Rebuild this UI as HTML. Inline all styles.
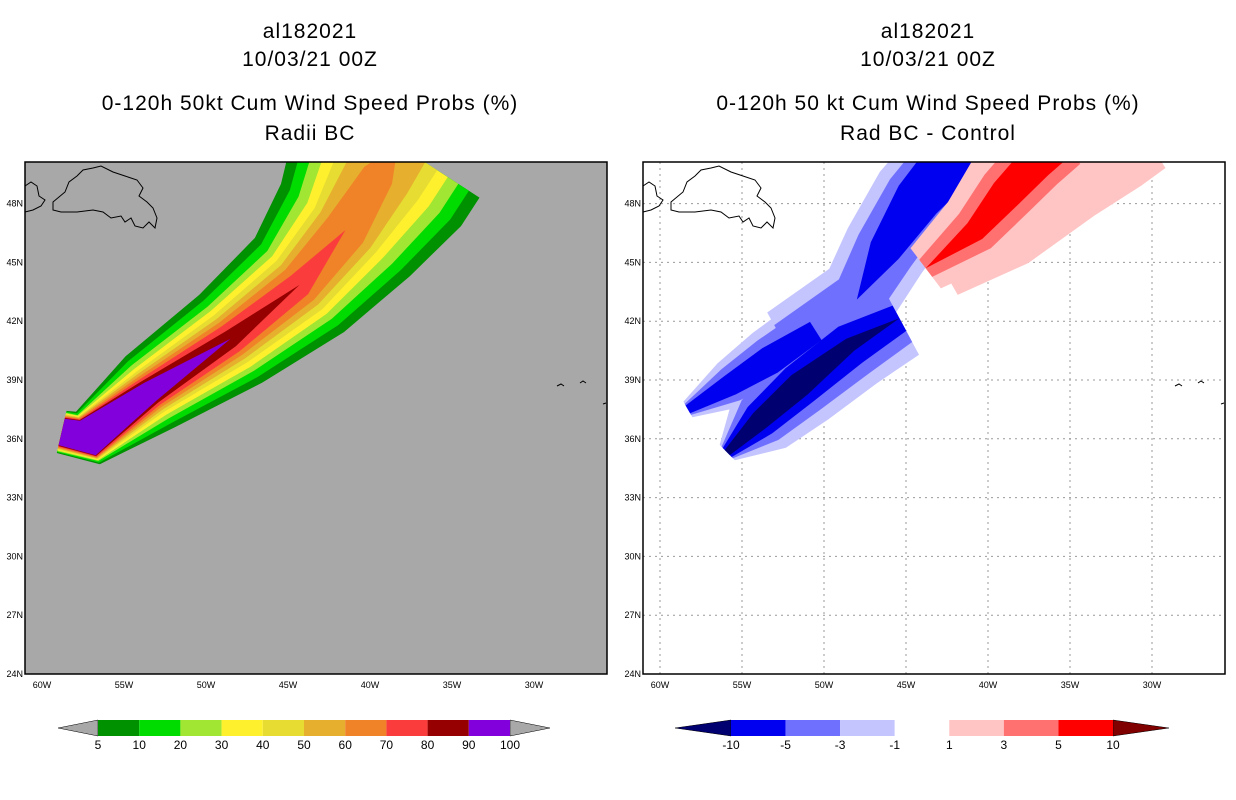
<!DOCTYPE html>
<html><head><meta charset="utf-8">
<style>
html,body{margin:0;padding:0;background:#fff;}
svg{display:block;}
text{font-family:"Liberation Sans",sans-serif;}
.ttl{font-size:21px;letter-spacing:1px;text-anchor:middle;fill:#000;}
.tk{font-size:9px;fill:#000;}
.cb{font-size:12px;fill:#000;text-anchor:middle;}
</style></head>
<body>
<svg id="fig" width="1236" height="800" viewBox="0 0 1236 800" xmlns="http://www.w3.org/2000/svg">
<defs>
<clipPath id="clipL"><rect x="25" y="162" width="582" height="512"/></clipPath>
<clipPath id="clipR"><rect x="643" y="162" width="582" height="512"/></clipPath>
</defs>
<g>
<text class="ttl" x="310" y="38">al182021</text>
<text class="ttl" x="310" y="66">10/03/21 00Z</text>
<text class="ttl" x="310" y="110">0-120h 50kt Cum Wind Speed Probs (%)</text>
<text class="ttl" x="310" y="140">Radii BC</text>
</g>
<g>
<text class="ttl" x="928" y="38">al182021</text>
<text class="ttl" x="928" y="66">10/03/21 00Z</text>
<text class="ttl" x="928" y="110">0-120h 50 kt Cum Wind Speed Probs (%)</text>
<text class="ttl" x="928" y="140">Rad BC - Control</text>
</g>
<rect x="25" y="162" width="582" height="512" fill="#a8a8a8"/>
<rect x="643" y="162" width="582" height="512" fill="#fff"/>
<g id="gridR" clip-path="url(#clipR)"></g>
<g id="plumeL" clip-path="url(#clipL)"></g>
<g id="plumeR" clip-path="url(#clipR)"></g>
<g id="coast"></g>
<rect x="25" y="162" width="582" height="512" fill="none" stroke="#000" stroke-width="1.5"/>
<rect x="643" y="162" width="582" height="512" fill="none" stroke="#000" stroke-width="1.5"/>
<g id="ticks"></g>
<g id="cbL"></g>
<g id="cbR"></g>
</svg>
<script>
// ---- data ----
const latTicks = [48,45,42,39,36,33,30,27,24];
const lonTicks = [60,55,50,45,40,35,30];
// left plume track (lon W, lat N)
const trackLon = [58.8,57.2,53.4,48.5,44.3,41.5,39.5,38.3];
const trackLat = [36.35,36.04,38.4,41.1,43.85,46.65,49.45,51.0];
const probLevels = [5,10,20,30,40,50,60,70,80,90];
const probColors = ['#009100','#00dc00','#a0e632','#fff02d','#e6dc32','#e6af2d','#f08228','#fa3c3c','#960000','#8200dc'];
const probWidths = [
 [1.2,1.6,2.4,3.0,3.6,4.4,5.4,5.4],
 [1.15,1.5,2.1,2.6,3.1,3.8,4.7,4.7],
 [1.1,1.4,1.8,2.2,2.6,3.2,4.0,4.0],
 [1.05,1.35,1.55,1.9,2.2,2.6,3.3,3.3],
 [1.0,1.3,1.35,1.6,1.85,2.1,2.6,2.6],
 [0.95,1.25,1.2,1.35,1.5,1.7,1.9,1.8],
 [0.9,1.2,1.05,1.1,1.15,1.2,0.9,0],
 [0.85,1.15,0.9,0.85,0.7,0,0,0],
 [0.8,1.1,0.75,0.5,0,0,0,0],
 [0.75,1.05,0.6,0,0,0,0,0]
];
// right panel bands
const diffColors = ['#c4c4ff','#7070ff','#0000f0','#000070','#ffc4c4','#ff7070','#ff0000'];
const bandLLon = [58.3,55.7,53.3,50.5];
const bandLLat = [37.5,38.75,40.0,41.5];
const bandLW = [[0.5,1.4,1.8,2.0],[0.35,1.0,1.3,1.4],[0.25,0.6,0.8,0.6],[0,0,0,0]];
const bandMLon = [55.9,53.9,51.5,48.4,45.4];
const bandMLat = [35.3,36.95,38.75,40.8,42.15];
const bandMW = [[0.6,2.1,2.5,2.6,2.3],[0.45,1.5,1.8,1.9,1.5],[0.35,1.0,1.2,1.2,0.8],[0.2,0.55,0.7,0.4,0]];
const bandULon = [52.5,48.0,46.3,44.3,42.3,41.2];
const bandULat = [41.0,43.1,45.6,48.2,50.1,51.2];
const bandUW = [[1.8,2.3,2.4,2.6,2.6,2.6],[1.0,1.5,1.7,1.9,2.0,2.0],[0,0,0.9,1.3,1.5,1.5],[0,0,0,0,0,0]];
const bandRLon = [43.8,40.8,38.9,37.1,35.6];
const bandRLat = [44.7,46.6,48.5,50.1,51.2];
const bandRW = [[1.4,2.2,2.6,2.9,3.0],[0.6,1.3,1.6,1.7,1.7],[0,0.6,0.9,1.0,1.0]];
const bandPLon = [42.5,38.5,34.5,31.5,30.0];
const bandPLat = [44.3,46.2,48.6,50.1,50.9];
const bandPW = [[1.2,1.6,1.6,1.5,1.4]];
const cbLLabels = ['5','10','20','30','40','50','60','70','80','90','100'];
const cbRLabels = ['-10','-5','-3','-1','1','3','5','10'];

// ---- axes ----
const NS='http://www.w3.org/2000/svg';
function xL(lon){return 42+(60-lon)*16.4;}
function xR(lon){return 660+(60-lon)*16.4;}
function yM(lat){return 674-(lat-24)*19.6;}
const PXDEG=18;
function mk(tag,attrs,parent){const e=document.createElementNS(NS,tag);for(const k in attrs)e.setAttribute(k,attrs[k]);parent.appendChild(e);return e;}

function bandPoly(lons,lats,ws,xf){
  const P=lons.map((l,i)=>[xf(l),yM(lats[i])]);
  const left=[],right=[];
  for(let i=0;i<P.length;i++){
    const a=P[Math.max(0,i-1)],b=P[Math.min(P.length-1,i+1)];
    let dx=b[0]-a[0],dy=b[1]-a[1];const n=Math.hypot(dx,dy)||1;dx/=n;dy/=n;
    const w=ws[i]*PXDEG;
    left.push([P[i][0]-dy*w,P[i][1]+dx*w]);
    right.push([P[i][0]+dy*w,P[i][1]-dx*w]);
  }
  return left.concat(right.reverse()).map(p=>p[0].toFixed(1)+','+p[1].toFixed(1)).join(' ');
}

// left plume
const gL=document.getElementById('plumeL');
probLevels.forEach((lv,k)=>{
  const p=mk('polygon',{points:bandPoly(trackLon,trackLat,probWidths[k],xL),fill:probColors[k]},gL);
  
  
});

// right grid
const gG=document.getElementById('gridR');
lonTicks.forEach(l=>{const e=mk('line',{x1:xR(l),x2:xR(l),y1:162,y2:674,stroke:'#999','stroke-dasharray':'2,4','stroke-width':1},gG);
  });
latTicks.forEach(l=>{const e=mk('line',{x1:643,x2:1225,y1:yM(l),y2:yM(l),stroke:'#999','stroke-dasharray':'2,4','stroke-width':1},gG);
  });

// right diff
const gR=document.getElementById('plumeR');
function drawBands(lons,lats,W,offset,name){
  W.forEach((ws,k)=>{
    if(Math.max(...ws)===0)return;
    const p=mk('polygon',{points:bandPoly(lons,lats,ws,xR),fill:diffColors[offset+k]},gR);
    
    
  });
}
for(let k=0;k<4;k++){
  drawBands(bandULon,bandULat,[bandUW[k]],k,'upper-negative');
  drawBands(bandLLon,bandLLat,[bandLW[k]],k,'left-tail-negative');
  drawBands(bandMLon,bandMLat,[bandMW[k]],k,'main-tail-negative');
}
drawBands(bandPLon,bandPLat,bandPW,4,'positive-fringe');
drawBands(bandRLon,bandRLat,bandRW,4,'positive');

// coastlines
const nfld="M28,40 L40,30 L44,20 L52,14 L58,8 L68,6 L76,4 L88,10 L100,14 L112,18 L118,26 L114,34 L122,40 L128,46 L132,56 L130,66 L124,60 L118,66 L110,64 L106,56 L100,60 L96,54 L86,56 L78,50 L68,48 L52,50 L36,50 L28,48 Z";
const cb="M0,24 L6,20 L12,24 L14,34 L20,38 L16,44 L8,48 L0,50";
const gC=document.getElementById('coast');
[[25,162],[643,162]].forEach((o,i)=>{
  const g=mk('g',{transform:`translate(${o[0]},${o[1]})`,fill:'none',stroke:'#000','stroke-width':1},gC);
  
  mk('path',{d:nfld},g);mk('path',{d:cb},g);
  mk('path',{d:'M532,224 l4,-2 l3,2 M555,221 l3,-2 l3,2 M578,242 l3,-1'},g);
});

// ticks
const gT=document.getElementById('ticks');
[[25,xL],[643,xR]].forEach(([x0,xf])=>{
  latTicks.forEach(l=>{const t=mk('text',{class:'tk',x:x0-2,y:yM(l)+3,'text-anchor':'end'},gT);t.textContent=l+'N';
    });
  lonTicks.forEach(l=>{const t=mk('text',{class:'tk',x:xf(l),y:688,'text-anchor':'middle'},gT);t.textContent=l+'W';
    });
});

// colorbars
function colorbar(gid,x0,x1,tri,labels,cols,under,over){
  const g=document.getElementById(gid);const n=labels.length-1;const w=(x1-x0)/n;
  const a=mk('polygon',{points:`${x0-tri},728 ${x0},720 ${x0},736`,fill:under,stroke:'#000','stroke-width':0.5},g);
  
  const b=mk('polygon',{points:`${x1+tri},728 ${x1},720 ${x1},736`,fill:over,stroke:'#000','stroke-width':0.5},g);
  
  for(let i=0;i<n;i++){const r=mk('rect',{x:x0+i*w,y:720,width:w,height:16,fill:cols[i]},g);
    }
  labels.forEach((s,i)=>{const t=mk('text',{class:'cb',x:x0+i*w,y:749},g);t.textContent=s;
    });
}
colorbar('cbL',98,510,40,cbLLabels,probColors,'#a8a8a8','#a8a8a8');
colorbar('cbR',731,1113,56,cbRLabels,['#0000f0','#7070ff','#c4c4ff','#ffffff','#ffc4c4','#ff7070','#ff0000'],'#000070','#800000');
</script>
</body></html>
